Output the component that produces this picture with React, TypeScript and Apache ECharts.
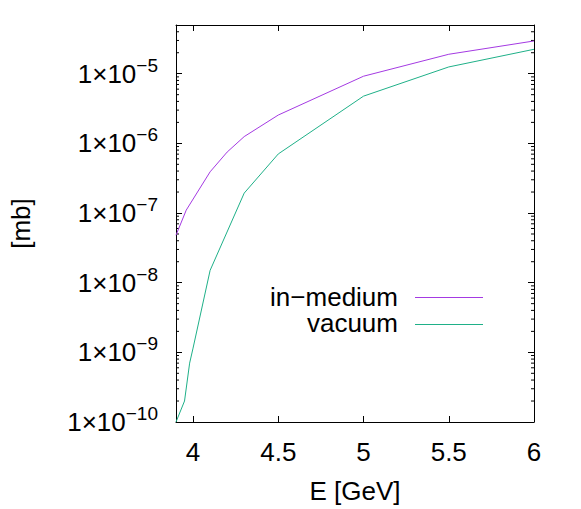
import React, { useEffect, useRef } from "react";
import * as echarts from "echarts";

const inMediumE = [3.9, 3.96, 4.1, 4.2, 4.3, 4.5, 5.0, 5.5, 6.0];
const inMediumV = [4.8e-8, 1.1e-7, 3.9e-7, 7.5e-7, 1.25e-6, 2.55e-6, 9.2e-6, 1.9e-5, 2.95e-5];
const vacuumE = [3.9, 3.95, 3.98, 4.0, 4.1, 4.3, 4.5, 5.0, 5.5, 6.0];
const vacuumV = [1e-10, 2e-10, 7e-10, 1.15e-9, 1.5e-8, 1.93e-7, 7.05e-7, 4.76e-6, 1.25e-5, 2.24e-5];

const xMin = 3.9;
const xMax = 6;
const yMin = 1e-10;
const yMax = 5e-5;
const xTicks = [4, 4.5, 5, 5.5, 6];
const yMajor = [1e-10, 1e-9, 1e-8, 1e-7, 1e-6, 1e-5];
const yMinorFactors = [2, 3, 4, 5, 6, 7, 8, 9];

const seriesNames = ["in\u2212medium", "vacuum"];
const colors = ["#a43ae2", "#1fb088"];

const FONT = "Liberation Sans";

export default function App() {
  const ref = useRef<HTMLDivElement>(null);
  useEffect(() => {
    if (!ref.current) return;
    const chart = echarts.init(ref.current, null, { renderer: "svg" });
    const yMinor: number[] = [];
    yMajor.forEach((d) =>
      yMinorFactors.forEach((f) => {
        const v = Number((d * f).toPrecision(3));
        if (v < yMax) yMinor.push(v);
      })
    );
    const fmt = (v: number) => {
      const e = Math.round(Math.log10(v));
      return `{a|1\u00d710}{s|\u2212${Math.abs(e)}}`;
    };
    const yAxisDef = (pos: "left" | "right", labels: boolean): any => ({
      type: "log",
      logBase: 10,
      min: yMin,
      max: yMax,
      position: pos,
      gridIndex: 0,
      axisLine: { show: true, lineStyle: { color: "#000", width: 1 } },
      axisTick: { show: true, inside: true, length: 6, lineStyle: { color: "#000", width: 1 } },
      axisLabel: labels
        ? {
            show: true,
            customValues: yMajor,
            margin: 18,
            formatter: fmt,
            rich: {
              a: { fontSize: 26, fontFamily: FONT, color: "#000", verticalAlign: "bottom", lineHeight: 26 },
              s: { fontSize: 19, fontFamily: FONT, color: "#000", verticalAlign: "bottom", lineHeight: 19, padding: [0, 0, 12, 0] },
            },
          }
        : { show: false },
      splitLine: { show: false },
      minorTick: { show: false },
      name: labels ? "[mb]" : "",
      nameLocation: "middle",
      nameGap: 142,
      nameRotate: 90,
      nameTextStyle: { fontSize: 26, fontFamily: FONT, color: "#000" },
    });
    const xAxisDef = (pos: "bottom" | "top", labels: boolean): any => ({
      type: "value",
      min: xMin,
      max: xMax,
      splitNumber: 4,
      position: pos,
      gridIndex: 0,
      axisLine: { show: true, onZero: false, lineStyle: { color: "#000", width: 1 } },
      axisTick: { show: true, inside: true, length: 6, lineStyle: { color: "#000", width: 1 } },
      axisLabel: labels
        ? { show: true, customValues: xTicks, margin: 17, fontSize: 26, fontFamily: FONT, color: "#000" }
        : { show: false },
      splitLine: { show: false },
      name: labels ? "E [GeV]" : "",
      nameLocation: "middle",
      nameGap: 56,
      nameTextStyle: { fontSize: 26, fontFamily: FONT, color: "#000" },
    });
    const legendText = (i: number, y: number) => ({
      type: "text",
      x: 398,
      y,
      style: { text: seriesNames[i], fontSize: 26, lineHeight: 24, fontFamily: FONT, fill: "#000", textAlign: "right", textVerticalAlign: "middle" },
    });
    const legendLine = (i: number, y: number) => ({
      type: "line",
      shape: { x1: 415, y1: y, x2: 483, y2: y },
      style: { stroke: colors[i], lineWidth: 1 },
    });
    chart.setOption({
      animation: false,
      backgroundColor: "#fff",
      grid: { left: 176, top: 25, right: 47, bottom: 85, containLabel: false },
      xAxis: [xAxisDef("bottom", true), xAxisDef("top", false)],
      yAxis: [yAxisDef("left", true), yAxisDef("right", false)],
      graphic: [legendText(0, 297), legendLine(0, 297.5), legendText(1, 323), legendLine(1, 324.5)],
      series: [
        {
          name: seriesNames[0],
          type: "line",
          symbol: "none",
          xAxisIndex: 0,
          yAxisIndex: 0,
          color: colors[0],
          lineStyle: { width: 1, color: colors[0] },
          data: inMediumE.map((e, i) => [e, inMediumV[i]]),
        },
        {
          name: seriesNames[1],
          type: "line",
          symbol: "none",
          xAxisIndex: 0,
          yAxisIndex: 0,
          color: colors[1],
          lineStyle: { width: 1, color: colors[1] },
          data: vacuumE.map((e, i) => [e, vacuumV[i]]),
        },
        {
          name: "minorTicks",
          type: "custom",
          xAxisIndex: 0,
          yAxisIndex: 0,
          silent: true,
          clip: false,
          data: yMinor.map((v) => [xMin, v]),
          renderItem: (_params: any, api: any) => {
            const v = api.value(1);
            const l = api.coord([xMin, v]);
            const r = api.coord([xMax, v]);
            return {
              type: "group",
              children: [
                { type: "line", shape: { x1: l[0], y1: l[1], x2: l[0] + 3, y2: l[1] }, style: { stroke: "#000", fill: "none", lineWidth: 1 } },
                { type: "line", shape: { x1: r[0] - 3, y1: r[1], x2: r[0], y2: r[1] }, style: { stroke: "#000", fill: "none", lineWidth: 1 } },
              ],
            };
          },
        },
      ],
    });
    return () => chart.dispose();
  }, []);
  return <div ref={ref} style={{ position: "fixed", left: 0, top: 0, width: 581, height: 509 }} />;
}
